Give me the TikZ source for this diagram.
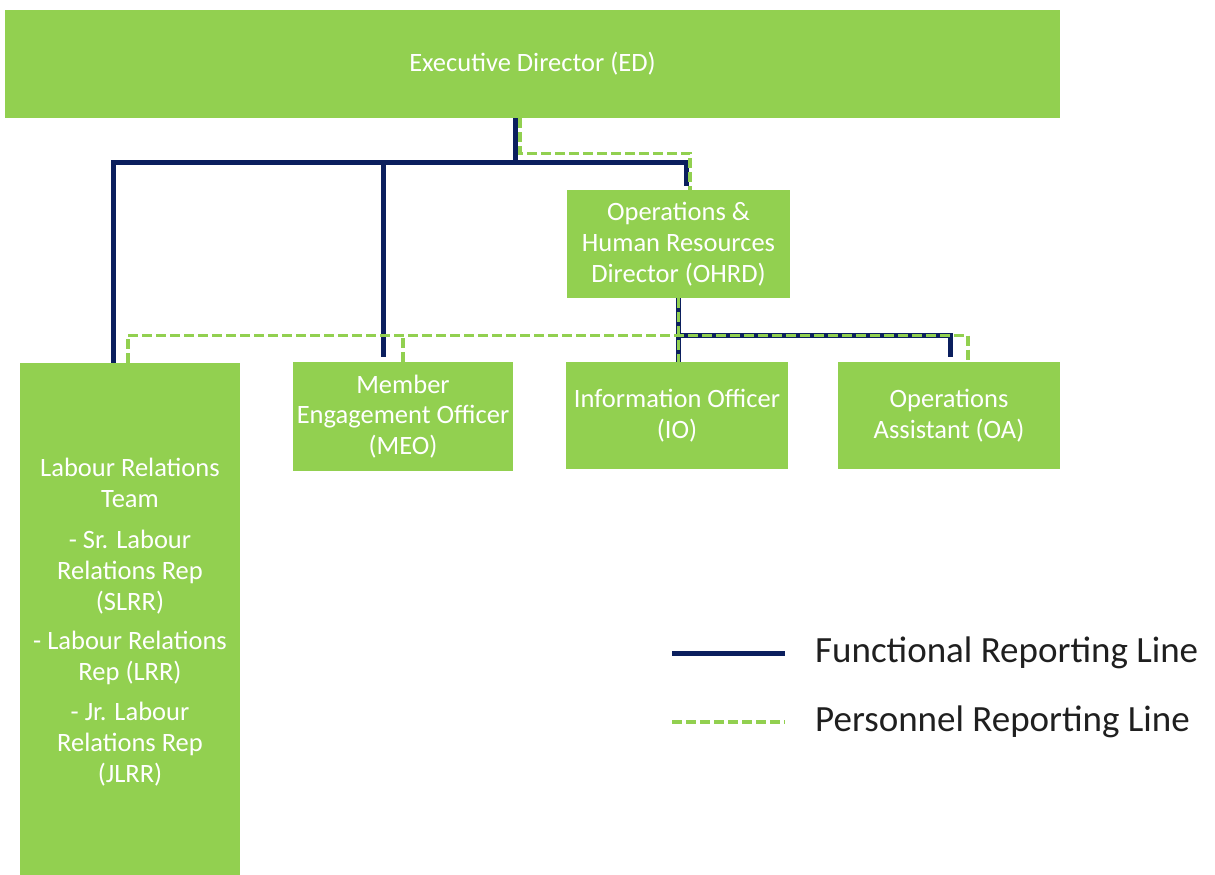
\documentclass[tikz,border=0pt]{standalone}
\usepackage{fontspec}
\setmainfont{Carlito}
\definecolor{boxgreen}{HTML}{92D050}
\definecolor{navy}{HTML}{0B1F5E}
\begin{document}
\begin{tikzpicture}[x=1pt,y=-1pt,
  box/.style={fill=boxgreen, draw=none, text=white, align=center, inner sep=0pt,
    font=\fontsize{26.5}{30.8}\selectfont},
  func/.style={draw=navy, line width=5pt},
  pers/.style={draw=boxgreen, line width=3.3pt, dash pattern=on 10pt off 4pt},
  legtext/.style={anchor=base west, text=black!88, inner sep=0pt,
    font=\fontsize{37}{42}\selectfont}]
\useasboundingbox (0,0) rectangle (1215,875);
\clip (0,0) rectangle (1215,875);

% boxes
\node[box, minimum width=1055pt, minimum height=108pt] (ED) at (532.5,64) {Executive Director (ED)};
\node[box, minimum width=223pt, minimum height=108pt] (OHRD) at (678.5,244)
  {Operations \&\\Human Resources\\Director (OHRD)};
\node[box, minimum width=220pt, minimum height=518pt] (LRT) at (130,622)
  {Labour Relations\\Team\\[11pt]- Sr. Labour\\Relations Rep\\(SLRR)\\[8pt]- Labour Relations\\Rep (LRR)\\[10pt]- Jr. Labour\\Relations Rep\\(JLRR)};
\node[box, minimum width=220pt, minimum height=109pt] (MEO) at (403,416.5)
  {Member\\Engagement Officer\\(MEO)};
\node[box, minimum width=222pt, minimum height=107pt] (IO) at (677,415.5)
  {Information Officer\\(IO)};
\node[box, minimum width=222pt, minimum height=107pt] (OA) at (949,415.5)
  {Operations\\Assistant (OA)};

% functional reporting lines
\coordinate (fb) at ([xshift=-17.5pt,yshift=-44pt]ED.south);
\draw[func] ([xshift=-17.5pt]ED.south) -- (fb);
\draw[func] (fb) -| ([xshift=-17pt]LRT.north);
\draw[func] (fb) -| ([xshift=-20pt,yshift=5pt]MEO.north);
\draw[func] (fb) -| ([xshift=7.5pt,yshift=4pt]OHRD.north);
\coordinate (pb) at ([yshift=-37pt]OHRD.south);
\draw[func] (OHRD.south) -- (OHRD.south |- IO.north);
\draw[func] (pb) -| ([xshift=1pt,yshift=5pt]OA.north);

% personnel reporting lines
\draw[pers] ([xshift=-12.5pt]ED.south) |- ([xshift=11.5pt,yshift=-35pt]ED.south -| OHRD.north)
  -- ([xshift=11.5pt]OHRD.north);
\draw[pers] ([xshift=-2pt]LRT.north) |- (pb) -| ([xshift=19pt]OA.north);
\draw[pers] (MEO.north) -- (MEO.north |- pb);
\draw[pers] (OHRD.south) -- (OHRD.south |- IO.north);

% legend
\coordinate (lf1) at (672,653);
\coordinate (lf2) at (785,653);
\coordinate (lp1) at (672,722);
\coordinate (lp2) at (785,722);
\draw[func] (lf1) -- (lf2);
\draw[pers] (lp1) -- (lp2);
\node[legtext] (lfun) at (815,662) {Functional Reporting Line};
\node[legtext] (lper) at (815,731) {Personnel Reporting Line};
\end{tikzpicture}
\end{document}
